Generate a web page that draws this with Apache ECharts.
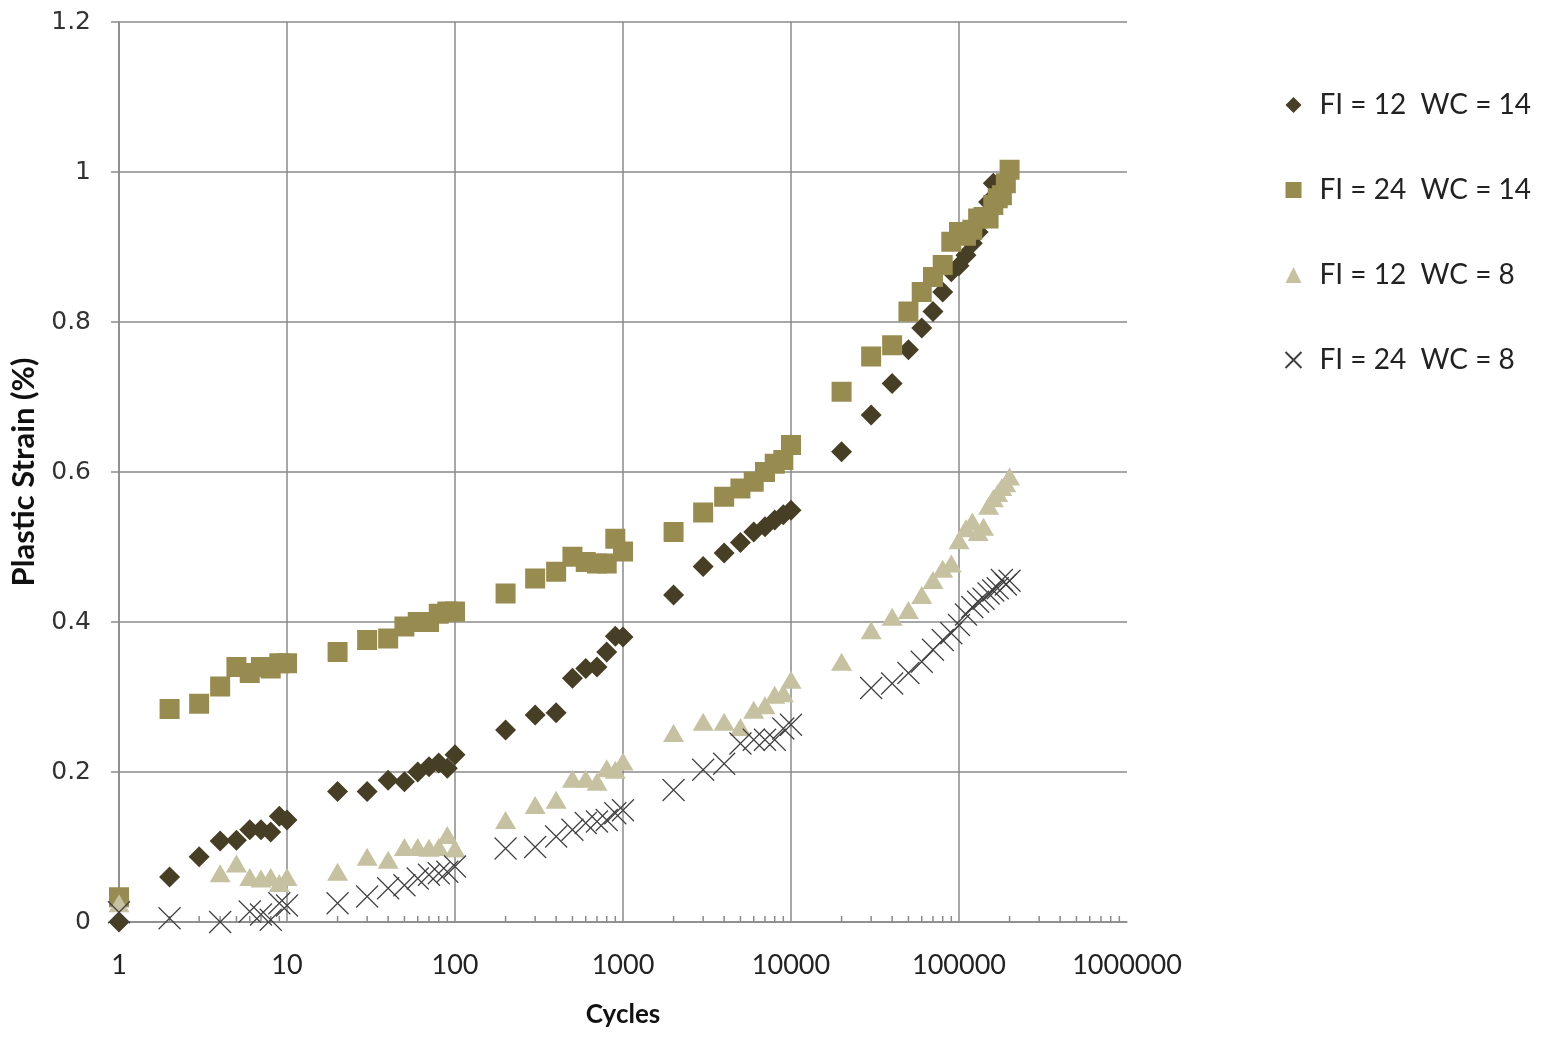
<!DOCTYPE html>
<html><head><meta charset="utf-8">
<script src="https://cdn.jsdelivr.net/npm/echarts@6/dist/echarts.min.js"></script>
<style>html,body{margin:0;padding:0;background:#fff}#c{width:1545px;height:1038px}</style>
</head><body><div id="c"></div><script>
const seriesNames = ['FI = 12  WC = 14', 'FI = 24  WC = 14', 'FI = 12  WC = 8', 'FI = 24  WC = 8'];
const xTickLabels = ['1', '10', '100', '1000', '10000', '100000', '1000000'];
const yTickLabels = ['0', '0.2', '0.4', '0.6', '0.8', '1', '1.2'];

// FI = 12 WC = 14 (diamonds)
const cyclesA = [1,2,3,4,5,6,7,8,9,10,20,30,40,50,60,70,80,90,100,200,300,400,500,600,700,800,900,1000,2000,3000,4000,5000,6000,7000,8000,9000,10000,20000,30000,40000,50000,60000,70000,80000,90000,100000,110000,120000,130000,140000,150000,160000];
const strainA = [0,0.06,0.087,0.108,0.109,0.123,0.123,0.12,0.141,0.136,0.174,0.174,0.189,0.187,0.2,0.207,0.212,0.205,0.223,0.256,0.276,0.279,0.325,0.338,0.34,0.36,0.381,0.38,0.436,0.474,0.492,0.506,0.52,0.527,0.536,0.543,0.549,0.627,0.676,0.718,0.763,0.792,0.814,0.84,0.867,0.875,0.889,0.905,0.92,0.94,0.96,0.985];

// FI = 24 WC = 14 (squares)
const cyclesB = [1,2,3,4,5,6,7,8,9,10,20,30,40,50,60,70,80,90,100,200,300,400,500,600,700,800,900,1000,2000,3000,4000,5000,6000,7000,8000,9000,10000,20000,30000,40000,50000,60000,70000,80000,90000,100000,110000,120000,130000,140000,150000,160000,170000,180000,190000,200000];
const strainB = [0.033,0.284,0.291,0.314,0.34,0.332,0.34,0.338,0.345,0.345,0.36,0.376,0.378,0.394,0.4,0.4,0.411,0.414,0.414,0.438,0.458,0.467,0.487,0.48,0.478,0.478,0.511,0.494,0.52,0.546,0.567,0.578,0.587,0.6,0.611,0.616,0.636,0.707,0.754,0.769,0.814,0.84,0.86,0.876,0.907,0.92,0.915,0.923,0.938,0.94,0.938,0.956,0.965,0.969,0.985,1.003];

// FI = 12 WC = 8 (triangles)
const cyclesC = [1,4,5,6,7,8,9,10,20,30,40,50,60,70,80,90,100,200,300,400,500,600,700,800,900,1000,2000,3000,4000,5000,6000,7000,8000,9000,10000,20000,30000,40000,50000,60000,70000,80000,90000,100000,110000,120000,130000,140000,150000,160000,170000,180000,190000,200000];
const strainC = [0.025,0.065,0.078,0.06,0.058,0.06,0.052,0.06,0.067,0.087,0.083,0.1,0.1,0.099,0.1,0.116,0.098,0.136,0.156,0.163,0.191,0.191,0.187,0.205,0.203,0.214,0.252,0.267,0.267,0.26,0.283,0.289,0.303,0.305,0.323,0.347,0.389,0.407,0.416,0.436,0.456,0.471,0.478,0.509,0.525,0.534,0.52,0.527,0.555,0.565,0.572,0.58,0.585,0.594];

// FI = 24 WC = 8 (crosses)
const cyclesD = [1,2,4,6,7,8,9,10,20,30,40,50,60,70,80,90,100,200,300,400,500,600,700,800,900,1000,2000,3000,4000,5000,6000,7000,8000,9000,10000,30000,40000,50000,60000,70000,80000,90000,100000,110000,120000,130000,140000,150000,160000,170000,180000,190000,200000];
const strainD = [0.013,0.005,0,0.014,0.01,0.003,0.025,0.022,0.025,0.034,0.045,0.049,0.058,0.063,0.065,0.067,0.074,0.098,0.1,0.114,0.123,0.132,0.134,0.136,0.145,0.149,0.176,0.203,0.211,0.238,0.243,0.243,0.243,0.258,0.263,0.312,0.318,0.332,0.347,0.363,0.376,0.385,0.396,0.41,0.42,0.427,0.431,0.438,0.442,0.445,0.456,0.45,0.455];

function pairs(xs, ys) { return xs.map((x, i) => [x, ys[i]]); }

// minor tick positions of the log axis (2..9 within each decade)
const minorTickPositions = [];
for (let k = 0; k < 6; k++) for (let m = 2; m <= 9; m++) minorTickPositions.push([m * Math.pow(10, k), 0]);

const gridColor = '#8a8a8a';
const chart = echarts.init(document.getElementById('c'), null, {renderer: 'canvas'});
chart.setOption({
  backgroundColor: '#ffffff',
  animation: false,
  grid: {left: 119, right: 418, top: 22, bottom: 116, containLabel: false},
  legend: {
    data: seriesNames,
    orient: 'vertical',
    left: 1278,
    top: 84,
    itemWidth: 16,
    itemHeight: 16,
    itemGap: 53,
    textStyle: {fontFamily: 'Lato', fontSize: 28, color: '#222', lineHeight: 32, padding: [0, 0, 0, 13]}
  },
  xAxis: {
    type: 'log', logBase: 10, min: 1, max: 1000000,
    name: 'Cycles', nameLocation: 'middle', nameGap: 80,
    nameTextStyle: {fontFamily: 'Lato', fontWeight: 'bold', fontSize: 26, color: '#111'},
    axisLine: {show: true, lineStyle: {color: gridColor, width: 1.5}},
    axisTick: {show: false},
    axisLabel: {margin: 30, fontFamily: 'Lato', fontSize: 27, color: '#222',
      formatter: v => xTickLabels[Math.round(Math.log10(v))]},
    splitLine: {show: true, showMaxLine: false, lineStyle: {color: gridColor, width: 1.5}}
  },
  yAxis: {
    type: 'value', min: 0, max: 1.2, interval: 0.2,
    name: 'Plastic Strain (%)', nameLocation: 'middle', nameGap: 80, nameRotate: 90,
    nameTextStyle: {fontFamily: 'Lato', fontWeight: 'bold', fontSize: 31, color: '#111'},
    axisLine: {show: true, lineStyle: {color: gridColor, width: 1.5}},
    axisTick: {show: true, inside: false, length: 8, lineStyle: {color: gridColor, width: 1.5}},
    axisLabel: {margin: 28, fontFamily: 'DejaVu Sans', fontSize: 25, color: '#333',
      formatter: v => yTickLabels[Math.round(v / 0.2)]},
    splitLine: {show: true, lineStyle: {color: gridColor, width: 1.5}}
  },
  series: [
    {name: 'minorTicks', type: 'scatter', data: minorTickPositions, symbol: 'rect', symbolSize: [1.5, 6],
     symbolOffset: [0, -3], itemStyle: {color: gridColor, opacity: 1}, silent: true, z: 1},
    {name: seriesNames[0], type: 'scatter', data: pairs(cyclesA, strainA), symbol: 'diamond', symbolSize: 21,
     itemStyle: {color: '#473f25', opacity: 1}, z: 2},
    {name: seriesNames[1], type: 'scatter', data: pairs(cyclesB, strainB), symbol: 'rect', symbolSize: 20,
     itemStyle: {color: '#978b50', opacity: 1}, z: 3},
    {name: seriesNames[2], type: 'scatter', data: pairs(cyclesC, strainC), symbol: 'triangle', symbolSize: [21, 18],
     itemStyle: {color: '#c6c1a0', opacity: 1}, z: 4},
    {name: seriesNames[3], type: 'scatter', data: pairs(cyclesD, strainD), symbol: 'path://M0,0L20,20M20,0L0,20', symbolSize: 22,
     itemStyle: {color: 'none', borderColor: '#3f3f3f', borderWidth: 1.2, opacity: 1}, z: 5}
  ]
});
</script></body></html>
